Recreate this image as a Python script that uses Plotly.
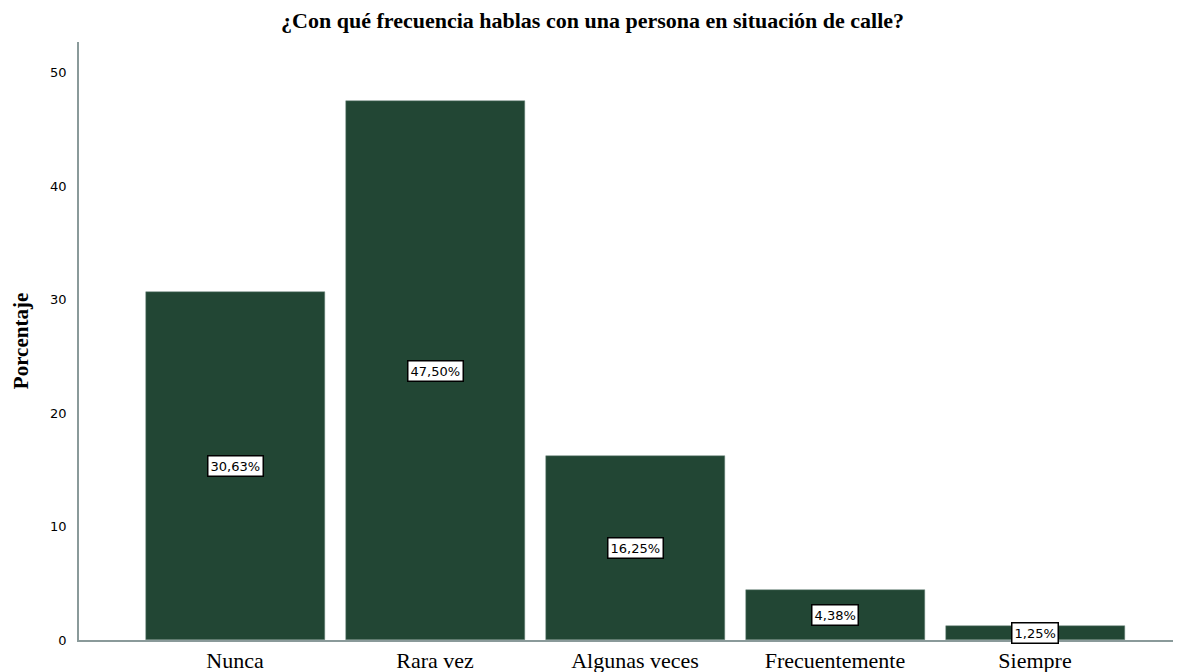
import plotly.graph_objects as go

categories = ["Nunca", "Rara vez", "Algunas veces", "Frecuentemente", "Siempre"]
values = [30.63, 47.50, 16.25, 4.38, 1.25]
labels = ["30,63%", "47,50%", "16,25%", "4,38%", "1,25%"]
y_ticks = [0, 10, 20, 30, 40, 50]

bar_color = "#224634"

fig = go.Figure()
fig.add_trace(go.Bar(
    x=list(range(len(categories))),
    y=values,
    width=0.895,
    marker=dict(color=bar_color, line=dict(color="#6e8a7e", width=0.5)),
    hoverinfo="skip",
))

for i, (v, lab) in enumerate(zip(values, labels)):
    fig.add_annotation(
        x=i, y=v / 2, xref="x", yref="y", text=lab, showarrow=False,
        font=dict(family="DejaVu Sans", size=13, color="black"),
        bgcolor="white", bordercolor="black", borderwidth=1.5, borderpad=2,
    )

fig.update_layout(
    width=1181, height=672,
    margin=dict(l=71, r=8, t=34, b=40),
    paper_bgcolor="white", plot_bgcolor="white",
    showlegend=False,
    title=dict(
        text="<b>¿Con qué frecuencia hablas con una persona en situación de calle?</b>",
        x=0.495, xanchor="center", xref="container", y=0.982, yanchor="middle",
        font=dict(family="Liberation Serif", size=22, color="black"),
    ),
    bargap=0,
)

fig.update_xaxes(
    range=[-0.78, 4.73],
    tickmode="array", tickvals=list(range(len(categories))), ticktext=categories,
    showline=True, linecolor="#8a9a9a", linewidth=1.5,
    showgrid=False, zeroline=False, ticks="",
    tickfont=dict(family="Liberation Serif", size=22, color="black"),
)
fig.update_yaxes(
    range=[0, 52.7],
    tickmode="array", tickvals=y_ticks,
    showline=True, linecolor="#8a9a9a", linewidth=1.5,
    showgrid=False, zeroline=False, ticks="",
    ticklabelstandoff=8,
    tickfont=dict(family="DejaVu Sans", size=13, color="black"),
    title=dict(text="<b>Porcentaje</b>", standoff=16,
               font=dict(family="Liberation Serif", size=21, color="black")),
)

fig.write_html("out.html")
